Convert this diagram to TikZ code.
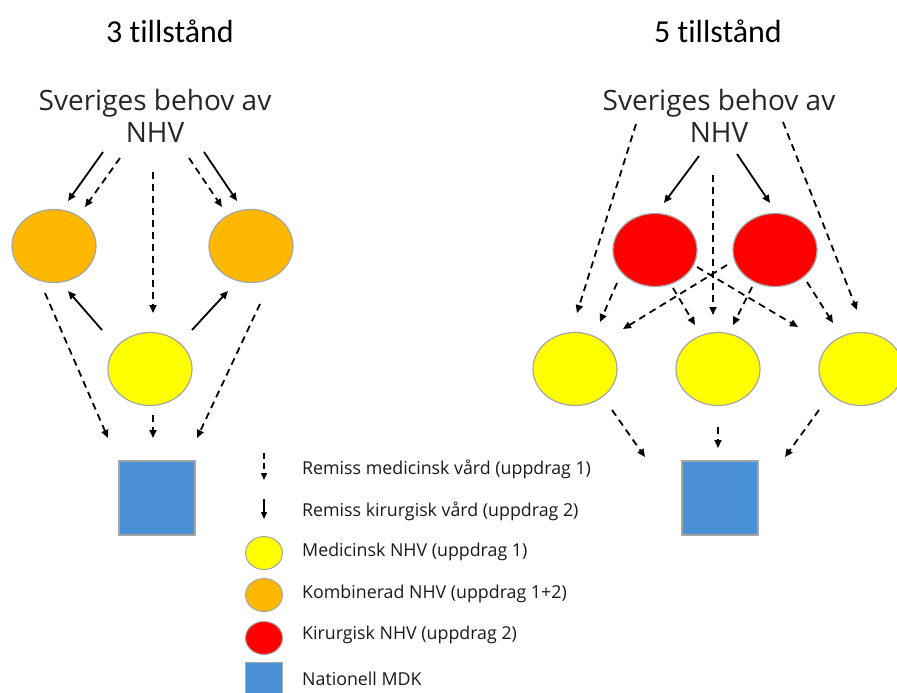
\documentclass[tikz,border=0pt]{standalone}
\usepackage{fontspec}
\setmainfont{Open Sans}
\newfontfamily\titlefont[Ligatures={NoCommon,NoRequired,NoContextual}]{Carlito}
\usetikzlibrary{arrows.meta,calc,shapes.geometric}
\definecolor{orangec}{RGB}{255,184,0}
\definecolor{yellowc}{RGB}{255,255,0}
\definecolor{redc}{RGB}{255,0,0}
\definecolor{bluec}{RGB}{74,144,214}
\definecolor{edgec}{RGB}{165,165,165}
\tikzset{
  titletxt/.style={font=\titlefont\fontsize{32}{36}\selectfont, inner sep=0pt},
  srctxt/.style={font=\fontsize{28}{32}\selectfont, align=center, inner sep=0pt, text=black!85},
  blob/.style={ellipse, draw=edgec, line width=1.2pt, minimum width=84pt, minimum height=73pt, inner sep=0pt},
  mdk/.style={rectangle, draw=edgec, line width=1.2pt, fill=bluec, minimum width=76pt, minimum height=74pt, inner sep=0pt},
  lgblob/.style={ellipse, draw=edgec, line width=1pt, minimum width=37pt, minimum height=33pt, inner sep=0pt},
  lgtxt/.style={font=\fontsize{17.8}{20}\selectfont, anchor=west, inner sep=0pt, text=black!90},
  sol/.style={line width=1.8pt, -{Triangle[length=8pt,width=7pt]}},
  dsh/.style={line width=1.8pt, dash pattern=on 7pt off 5pt, -{Triangle[length=8pt,width=7pt]}},
}
\begin{document}
\begin{tikzpicture}[x=1pt,y=-1pt]
\useasboundingbox (0,0) rectangle (897,693);
\begin{scope}
\clip (0,0) rectangle (897,693);
% ---------- left: 3 tillstand ----------
\node[titletxt] (t3) at (170,31) {3 tillstånd};
\node[srctxt] (s3) at (155,116) {Sveriges behov av\\NHV};
\node[blob, fill=orangec] (o1) at (54,246) {};
\node[blob, fill=orangec] (o2) at (251,246) {};
\node[blob, fill=yellowc] (ym) at (150,369) {};
\node[mdk] (m3) at (157,498) {};

\draw[sol] ($(s3)+(-52,36)$) -- ($(o1)+(14,-45)$);
\draw[dsh] ($(s3)+(-35,42)$) -- ($(o1)+(31,-39)$);
\draw[dsh] ($(s3)+(-2,56)$) -- ($(ym)+(3,-56)$);
\draw[dsh] ($(s3)+(34,42)$) -- ($(o2)+(-29,-39)$);
\draw[sol] ($(s3)+(49,36)$) -- ($(o2)+(-14,-45)$);
\draw[sol] ($(ym)+(-48,-39)$) -- ($(o1)+(14,45)$);
\draw[sol] ($(ym)+(42,-39)$) -- ($(o2)+(-23,45)$);
\draw[dsh] ($(o1)+(-9,47)$) -- ($(m3)+(-49,-60)$);
\draw[dsh] ($(ym)+(3,46)$) -- ($(m3)+(-4,-60)$);
\draw[dsh] ($(o2)+(9,58)$) -- ($(m3)+(40,-60)$);

% ---------- right: 5 tillstand ----------
\node[titletxt] (t5) at (718,31) {5 tillstånd};
\node[srctxt] (s5) at (719,116) {Sveriges behov av\\NHV};
\node[blob, fill=redc] (r1) at (655,250) {};
\node[blob, fill=redc] (r2) at (775,250) {};
\node[blob, fill=yellowc] (y1) at (575,369) {};
\node[blob, fill=yellowc] (y2) at (718,369) {};
\node[blob, fill=yellowc] (y3) at (861,369) {};
\node[mdk] (m5) at (720,498) {};

\draw[sol] ($(s5)+(-20,40)$) -- ($(r1)+(9,-47)$);
\draw[sol] ($(s5)+(18,38)$) -- ($(r2)+(-5,-47)$);
\draw[dsh] ($(s5)+(-6,59)$) -- ($(y2)+(-5,-54)$);
\draw[dsh] ($(s5)+(-83,8)$) -- ($(y1)+(2,-56)$);
\draw[dsh] ($(s5)+(64,6)$) -- ($(y3)+(-4,-59)$);
\draw[dsh] ($(r1)+(-38,33)$) -- ($(y1)+(25,-47)$);
\draw[dsh] ($(r1)+(18,38)$) -- ($(y2)+(-23,-44)$);
\draw[dsh] ($(r1)+(42,17)$) -- ($(y3)+(-63,-42)$);
\draw[dsh] ($(r2)+(-48,15)$) -- ($(y1)+(48,-40)$);
\draw[dsh] ($(r2)+(-23,37)$) -- ($(y2)+(15,-44)$);
\draw[dsh] ($(r2)+(32,32)$) -- ($(y3)+(-28,-46)$);
\draw[dsh] ($(y1)+(37,41)$) -- ($(m5)+(-75,-41)$);
\draw[dsh] ($(y2)+(0,58)$) -- ($(m5)+(-2,-50)$);
\draw[dsh] ($(y3)+(-42,41)$) -- ($(m5)+(65,-41)$);

% ---------- legend ----------
\coordinate (la1) at (264,453);
\coordinate (la2) at (264,480);
\coordinate (lb1) at (264,499);
\coordinate (lb2) at (264,519);
\draw[line width=1.4pt, dash pattern=on 6pt off 4pt, -{Triangle[length=7pt,width=6pt]}] (la1) -- (la2);
\draw[line width=1.4pt, -{Triangle[length=7pt,width=6pt]}] (lb1) -- (lb2);
\node[lgblob, fill=yellowc] (ly) at (264,553) {};
\node[lgblob, fill=orangec] (lo) at (264,595) {};
\node[lgblob, fill=redc] (lr) at (264,638) {};
\node[rectangle, draw=edgec, line width=1pt, fill=bluec, minimum width=37pt, minimum height=37pt, inner sep=0pt] (lm) at (264,681) {};
\node[lgtxt] (l1) at (302,469) {Remiss medicinsk vård (uppdrag 1)};
\node[lgtxt] (l2) at (302,511) {Remiss kirurgisk vård (uppdrag 2)};
\node[lgtxt] (l3) at (302,552) {Medicinsk NHV (uppdrag 1)};
\node[lgtxt] (l4) at (302,594) {Kombinerad NHV (uppdrag 1+2)};
\node[lgtxt] (l5) at (302,635) {Kirurgisk NHV (uppdrag 2)};
\node[lgtxt] (l6) at (302,679) {Nationell MDK};
\end{scope}
\end{tikzpicture}
\end{document}
